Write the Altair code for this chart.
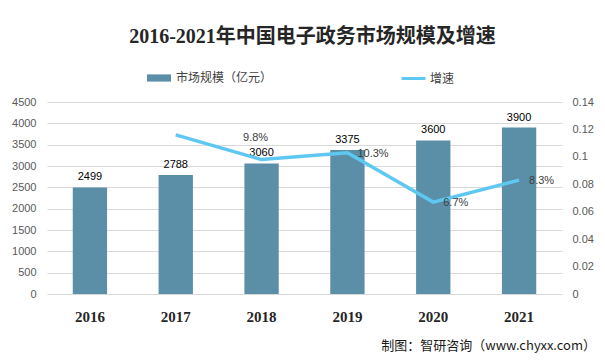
import altair as alt
import pandas as pd

years = ["2016", "2017", "2018", "2019", "2020", "2021"]
market = [2499, 2788, 3060, 3375, 3600, 3900]
growth = [None, 0.116, 0.098, 0.103, 0.067, 0.083]
growth_labels = ["", "", "9.8%", "10.3%", "6.7%", "8.3%"]
left_ticks = [0, 500, 1000, 1500, 2000, 2500, 3000, 3500, 4000, 4500]
right_ticks = [0, 0.02, 0.04, 0.06, 0.08, 0.1, 0.12, 0.14]
series_bar = "市场规模（亿元）"
series_line = "增速"
title_text = "2016-2021年中国电子政务市场规模及增速"
footer_text = "制图：智研咨询（www.chyxx.com）"

df = pd.DataFrame({
    "year": years,
    "market": market,
    "growth": growth,
    "glabel": growth_labels,
    "s1": [series_bar] * 6,
    "s2": [series_line] * 6,
})

SANS = "Noto Sans CJK SC"
NUM = "Liberation Sans, Noto Sans CJK SC"

x_enc = alt.X(
    "year:N",
    sort=years,
    scale=alt.Scale(paddingInner=0.6, paddingOuter=0.3),
    axis=alt.Axis(
        title=None, labelAngle=0, labelFontWeight="bold", labelFontSize=15,
        labelFont="Liberation Serif", labelColor="#262626", labelPadding=15,
        ticks=False, domain=False,
    ),
)

y_left = alt.Y(
    "market:Q",
    scale=alt.Scale(domain=[0, 4500], nice=False),
    axis=alt.Axis(
        title=None, values=left_ticks, format="d", grid=True, gridColor="#d9d9d9",
        domain=False, ticks=False, labelColor="#595959", labelFontSize=11,
        labelFont=NUM, labelPadding=11, orient="left",
    ),
)

y_right = alt.Y(
    "growth:Q",
    scale=alt.Scale(domain=[0, 0.14], nice=False),
    axis=alt.Axis(
        title=None, values=right_ticks, format=".2~f", grid=False,
        domain=False, ticks=False, labelColor="#595959", labelFontSize=11,
        labelFont=NUM, labelPadding=10, orient="right",
    ),
)

base_bar = alt.Chart(df).encode(x=x_enc, y=y_left)

bars = base_bar.mark_bar(color="#5b8fa8").encode(
    color=alt.Color(
        "s1:N",
        scale=alt.Scale(domain=[series_bar], range=["#5b8fa8"]),
        legend=alt.Legend(
            title=None, orient="none", legendX=99, legendY=-37,
            symbolType="M-1,-0.3H1V0.3H-1Z", symbolSize=576,
            labelFontSize=12, labelFont=SANS, labelColor="#404040",
            labelOffset=4, padding=0, labelLimit=300,
        ),
    )
)

bar_text = base_bar.mark_text(
    baseline="bottom", dy=-5, fontSize=11, font=NUM, color="#000000"
).encode(text=alt.Text("market:Q", format="d"))

bar_layer = alt.layer(bars, bar_text)

base_line = alt.Chart(df).encode(x=x_enc, y=y_right)

line = base_line.mark_line(strokeWidth=3.5).encode(
    stroke=alt.Stroke(
        "s2:N",
        scale=alt.Scale(domain=[series_line], range=["#5ec8f2"]),
        legend=alt.Legend(
            title=None, orient="none", legendX=353, legendY=-37,
            symbolType="stroke", symbolSize=576, symbolStrokeWidth=3,
            labelFontSize=12, labelFont=SANS, labelColor="#404040",
            labelOffset=3, padding=0,
        ),
    )
)

line_text_a = base_line.mark_text(
    align="center", baseline="middle", dx=-6, dy=-22, fontSize=11, font=NUM,
    color="#404040",
).encode(text="glabel:N").transform_filter(alt.datum.year == "2018")

line_text_b = base_line.mark_text(
    align="left", baseline="middle", dx=10, dy=1, fontSize=11, font=NUM,
    color="#404040",
).encode(text="glabel:N").transform_filter(
    (alt.datum.year != "2018") & (alt.datum.glabel != "")
)

line_layer = alt.layer(line, line_text_a, line_text_b)

footer = alt.Chart(pd.DataFrame({"t": [footer_text]})).mark_text(
    align="right", baseline="middle", fontSize=13, font=SANS, color="#1a1a1a"
).encode(text="t:N", x=alt.value(549), y=alt.value(244))

chart = alt.layer(bar_layer, line_layer, footer).resolve_scale(
    y="independent", color="independent", stroke="independent"
).properties(
    width=515,
    height=192,
    title=alt.TitleParams(
        title_text, fontSize=20, font="Liberation Serif, Noto Sans CJK SC",
        fontWeight="bold", color="#262626", anchor="middle", dx=8, offset=18,
    ),
    autosize=alt.AutoSizeParams(type="none"),
    padding={"left": 39, "top": 94, "right": 35, "bottom": 62},
    background="#ffffff",
).configure_view(stroke=None)

chart.save("out.html", embed_options={"renderer": "svg", "actions": False})
